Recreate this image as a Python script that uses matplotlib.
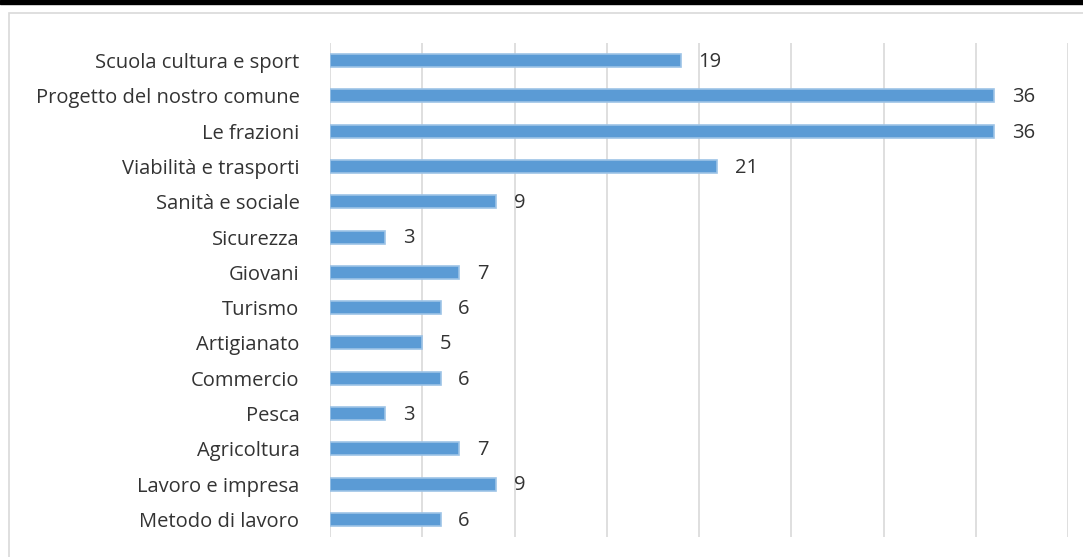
import matplotlib.pyplot as plt
from matplotlib.patches import Rectangle

categories = ['Scuola cultura e sport', 'Progetto del nostro comune', 'Le frazioni',
              'Viabilità e trasporti', 'Sanità e sociale', 'Sicurezza', 'Giovani',
              'Turismo', 'Artigianato', 'Commercio', 'Pesca', 'Agricoltura',
              'Lavoro e impresa', 'Metodo di lavoro']
values = [19, 36, 36, 21, 9, 3, 7, 6, 5, 6, 3, 7, 9, 6]

plt.rcParams['font.family'] = ['Open Sans', 'DejaVu Sans']

W, H = 1083, 557
fig = plt.figure(figsize=(W/100, H/100), dpi=100)

# black band at top and light chart border
fig.patches.append(Rectangle((0, 1-4/H), 1, 4/H, transform=fig.transFigure, color='black', zorder=-2))
fig.patches.append(Rectangle((9/W, -0.1), 1.2, 1-13/H+0.1, transform=fig.transFigure,
                             facecolor='white', edgecolor='#d9d9d9', lw=1.2, zorder=-2))

ax = fig.add_axes([330/W, 1-537/H, (1068-330)/W, (537-43)/H])
ax.set_zorder(2)
ax.set_facecolor('none')

ypos = list(range(len(categories)))
ax.barh(ypos, values, height=0.37, color='#5b9bd5', edgecolor='#9dc3e6', lw=1.2, zorder=3)
for y, v in zip(ypos, values):
    ax.text(v + 0.95, y + 0.04, str(v), va='center', ha='left', fontsize=14.5, color='#333333')

ax.set_xlim(0, 40)
ax.set_ylim(len(categories)-0.5, -0.5)
ax.set_xticks(range(0, 41, 5))
ax.xaxis.grid(True, color='#d9d9d9', lw=1.2, zorder=0)
ax.tick_params(axis='x', length=0, labelbottom=False)
ax.tick_params(axis='y', length=0, pad=22)
ax.set_yticks(ypos)
ax.set_yticklabels(categories, fontsize=14.5, color='#333333')
for s in ax.spines.values():
    s.set_visible(False)

fig.savefig('out.png', dpi=100)
